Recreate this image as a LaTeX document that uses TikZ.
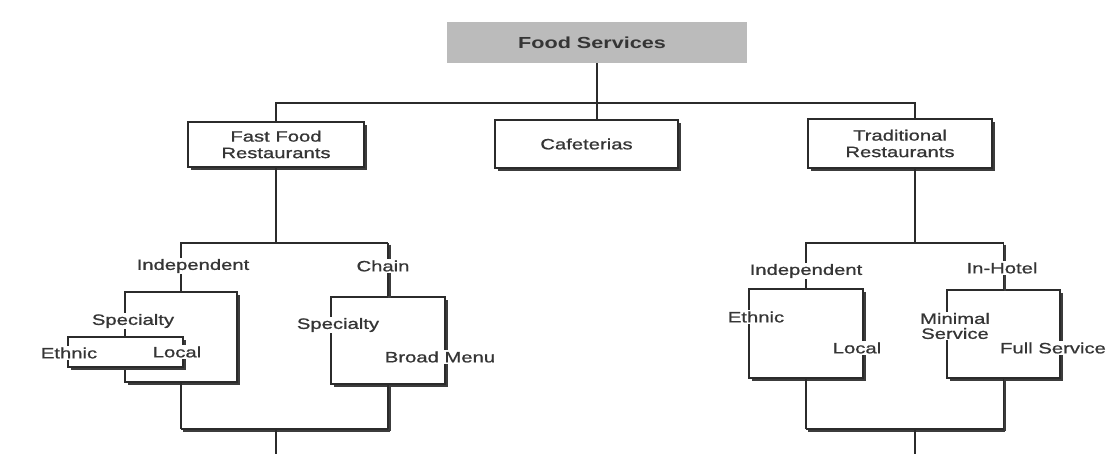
\documentclass[tikz,border=0pt]{standalone}
\usepackage{fontspec}
\setmainfont{Liberation Sans}[FakeStretch=1.35]
\newfontfamily\lblfont{Liberation Sans}[FakeStretch=1.35,FakeBold=0.9]
\usetikzlibrary{shadows,calc}
\definecolor{ink}{HTML}{2B2B2B}
\definecolor{txt}{HTML}{353535}
\definecolor{shd}{HTML}{3C3C3C}
\definecolor{fsgray}{HTML}{BBBBBB}
\begin{document}
\begin{tikzpicture}[x=1pt,y=-1pt,
  conn/.style={draw=ink,line width=1.3pt},
  sconn/.style={conn,preaction={draw=shd,line width=2.6pt,transform canvas={xshift=1.6pt,yshift=-1.6pt}}},
  box/.style={draw=ink,line width=1.3pt,fill=white,text=txt,align=center,inner sep=0pt,
    drop shadow={shadow xshift=2.6pt,shadow yshift=-2.6pt,fill=shd,opacity=1},
    font=\lblfont\fontsize{15}{16.5}\selectfont},
  fsbox/.style={fill=fsgray,text=txt,inner sep=0pt,font=\fontsize{16}{18}\selectfont\bfseries},
  lab/.style={fill=white,text=txt,inner sep=1.2pt,align=center,font=\lblfont\fontsize{15}{15}\selectfont}]
\useasboundingbox (0,0) rectangle (1109,453);

% top level
\node[fsbox,minimum width=300pt,minimum height=41pt] (fs) at (597,42.5) {Food Services\hspace*{10pt}};
\node[box,minimum width=176pt,minimum height=45pt] (ff) at (276,144.5) {Fast Food\\Restaurants};
\node[box,minimum width=183pt,minimum height=48pt] (caf) at (586.5,144) {Cafeterias};
\node[box,minimum width=184pt,minimum height=49pt] (tr) at (900,143.5) {Traditional\\Restaurants};

\coordinate (bar) at (0,103);
\coordinate (trin) at ($(tr.north)+(15,0)$);
\coordinate (trout) at ($(tr.south)+(15,0)$);
\draw[conn] (fs.south) -- (fs.south |- caf.north);
\draw[conn] (ff.north) -- (ff.north |- bar) -- (trin |- bar) -- (trin);

% fast food subtree
\coordinate (ffj) at (276,243);
\coordinate (ffb) at (276,429);
\coordinate (ffend) at (276,455);
\node[box,minimum width=112pt,minimum height=90pt] (ffind) at (181,337) {};
\node[box,minimum width=115pt,minimum height=30pt] (ffspec) at (125.5,352) {};
\node[box,minimum width=114pt,minimum height=87pt] (ffchain) at (388,340.5) {};

\draw[conn] (ff.south) -- (ffj);
\draw[conn] (ffind.north) -- (ffind.north |- ffj) -- (ffchain.north |- ffj);
\draw[sconn] (ffchain.north |- ffj) -- (ffchain.north);
\draw[conn] (ffind.south) -- (ffind.south |- ffb);
\draw[sconn] (ffind.south |- ffb) -- (ffchain.south |- ffb);
\draw[sconn] (ffchain.south) -- (ffchain.south |- ffb);
\draw[conn] (ffb) -- (ffend);

\node[lab] (l1) at (193,266) {Independent};
\node[lab] (l2) at (383,266) {Chain};
\node[lab] (l3) at (133,321) {Specialty};
\node[lab] (l4) at (69,353) {Ethnic};
\node[lab] (l5) at (177,352) {Local};
\node[lab] (l6) at (338,325) {Specialty};
\node[lab] (l7) at (440,357) {Broad Menu};

% traditional subtree
\coordinate (trj) at (915,243);
\coordinate (trb) at (915,429);
\coordinate (trend) at (915,455);
\node[box,minimum width=114pt,minimum height=89pt] (trind) at (806,333.5) {};
\node[box,minimum width=113pt,minimum height=88pt] (trhot) at (1003.5,334) {};

\draw[conn] (trout) -- (trj);
\draw[conn] (trind.north) -- (trind.north |- trj) -- (trhot.north |- trj);
\draw[sconn] (trhot.north |- trj) -- (trhot.north);
\draw[conn] (trind.south) -- (trind.south |- trb);
\draw[sconn] (trind.south |- trb) -- (trhot.south |- trb);
\draw[sconn] (trhot.south) -- (trhot.south |- trb);
\draw[conn] (trb) -- (trend);

\node[lab] (r1) at (806,271) {Independent};
\node[lab] (r2) at (1002,268) {In-Hotel};
\node[lab] (r3) at (756,317) {Ethnic};
\node[lab] (r4) at (857,348) {Local};
\node[lab] (r5) at (955,326) {Minimal\\Service};
\node[lab] (r6) at (1053,348) {Full Service};
\end{tikzpicture}
\end{document}
